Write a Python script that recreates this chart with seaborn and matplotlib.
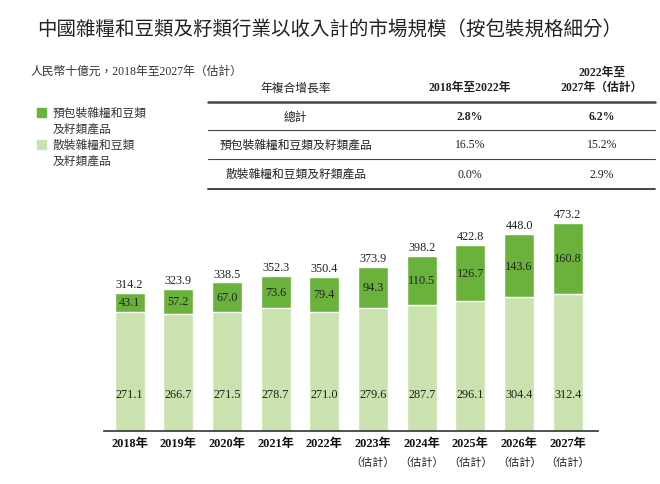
import pandas as pd
import matplotlib.pyplot as plt
import matplotlib.transforms as mtransforms
import seaborn as sns

years = ["2018年", "2019年", "2020年", "2021年", "2022年",
         "2023年", "2024年", "2025年", "2026年", "2027年"]
estimated = [False, False, False, False, False, True, True, True, True, True]
packaged = [43.1, 57.2, 67.0, 73.6, 79.4, 94.3, 110.5, 126.7, 143.6, 160.8]
bulk = [271.1, 266.7, 271.5, 278.7, 271.0, 279.6, 287.7, 296.1, 304.4, 312.4]
totals = [314.2, 323.9, 338.5, 352.3, 350.4, 373.9, 398.2, 422.8, 448.0, 473.2]

legend_labels = ["預包裝雜糧和豆類\n及籽類產品", "散裝雜糧和豆類\n及籽類產品"]
cagr_header = ["年複合增長率", "2018年至2022年", "2022年至\n2027年（估計）"]
cagr_rows = ["總計", "預包裝雜糧和豆類及籽類產品", "散裝雜糧和豆類及籽類產品"]
cagr_1822 = ["2.8%", "16.5%", "0.0%"]
cagr_2227 = ["6.2%", "15.2%", "2.9%"]

DARK = "#6ab23c"
LIGHT = "#c9e2ae"
SERIF = ["Liberation Serif", "Noto Sans CJK TC"]
SANS = ["Noto Sans CJK TC", "DejaVu Sans"]

sns.set_theme(style="white")
plt.rcParams["font.family"] = SERIF

df = pd.DataFrame({"year": years, "bulk": bulk, "packaged": packaged, "total": totals})

fig = plt.figure(figsize=(6.6, 4.85), dpi=100)
ax = fig.add_axes([0.158, 0.109, 0.748, 0.46])

# stacked bars: light (bulk) at bottom, total drawn behind in dark
sns.barplot(data=df, x="year", y="total", color=DARK, width=0.62,
            saturation=1, ax=ax)
sns.barplot(data=df, x="year", y="bulk", color=LIGHT, width=0.62,
            saturation=1, ax=ax)

for i in range(len(years)):
    ax.text(i, totals[i] + 6, f"{totals[i]:.1f}", ha="center", va="bottom",
            fontsize=8.8, color="#222222")
    ax.text(i, bulk[i] + packaged[i] / 2, f"{packaged[i]:.1f}", ha="center",
            va="center", fontsize=8.8, color="#222222")
    ax.text(i, 85, f"{bulk[i]:.1f}", ha="center", va="center",
            fontsize=8.8, color="#222222")

ax.set_xlim(-0.52, 9.62)
ax.set_ylim(0, 507)
ax.set_xlabel("")
ax.set_ylabel("")
ax.set_yticks([])
ax.set_xticks(range(len(years)))
ax.set_xticklabels(years, fontsize=8.8, fontweight="bold", color="#111111")
ax.tick_params(axis="x", length=0, pad=4)
for s in ["top", "right", "left"]:
    ax.spines[s].set_visible(False)
ax.spines["bottom"].set_color("#333333")
ax.spines["bottom"].set_linewidth(1.2)

trans = mtransforms.blended_transform_factory(ax.transData, ax.transAxes)
for i, est in enumerate(estimated):
    if est:
        ax.text(i, -0.135, "（估計）", transform=trans, ha="center", va="center",
                fontsize=8, family=SANS, color="#222222")

# title and unit
fig.text(0.5, 0.937, "中國雜糧和豆類及籽類行業以收入計的市場規模（按包裝規格細分）",
         ha="center", va="center", fontsize=14, family=SANS, color="#222222")
fig.text(0.046, 0.851, "人民幣十億元，2018年至2027年（估計）", ha="left",
         va="center", fontsize=8.5, color="#333333")

# legend
for k, (lab, col) in enumerate(zip(legend_labels, [DARK, LIGHT])):
    y = 0.765 - k * 0.066
    fig.patches.append(plt.Rectangle((0.056, y - 0.008), 0.013, 0.018,
                                     transform=fig.transFigure, color=col))
    fig.text(0.08, y - 0.016, lab, ha="left", va="center", fontsize=8.5,
             color="#333333", linespacing=1.35)

# CAGR table
cx = [0.448, 0.712, 0.912]
fig.text(cx[0], 0.818, cagr_header[0], ha="center", va="center", fontsize=8.5,
         family=SANS, color="#222222")
fig.text(cx[1], 0.818, cagr_header[1], ha="center", va="center", fontsize=8.5,
         fontweight="bold", color="#222222")
fig.text(cx[2], 0.834, cagr_header[2], ha="center", va="center", fontsize=8.5,
         fontweight="bold", color="#222222", linespacing=1.3)

row_y = [0.759, 0.700, 0.640]
line_y = [0.787, 0.729, 0.670, 0.609]
line_w = [1.8, 0.8, 0.8, 1.4]
for y, lw in zip(line_y, line_w):
    fig.add_artist(plt.Line2D([0.315, 0.992], [y, y], transform=fig.transFigure,
                              color="#444444", lw=lw))
for r in range(len(cagr_rows)):
    wt = "bold" if r == 0 else "normal"
    fig.text(cx[0], row_y[r], cagr_rows[r], ha="center", va="center",
             fontsize=8.5, family=SANS, color="#222222")
    fig.text(cx[1], row_y[r], cagr_1822[r], ha="center", va="center",
             fontsize=8.5, fontweight=wt, color="#222222")
    fig.text(cx[2], row_y[r], cagr_2227[r], ha="center", va="center",
             fontsize=8.5, fontweight=wt, color="#222222")

fig.savefig("out.png", dpi=100)
